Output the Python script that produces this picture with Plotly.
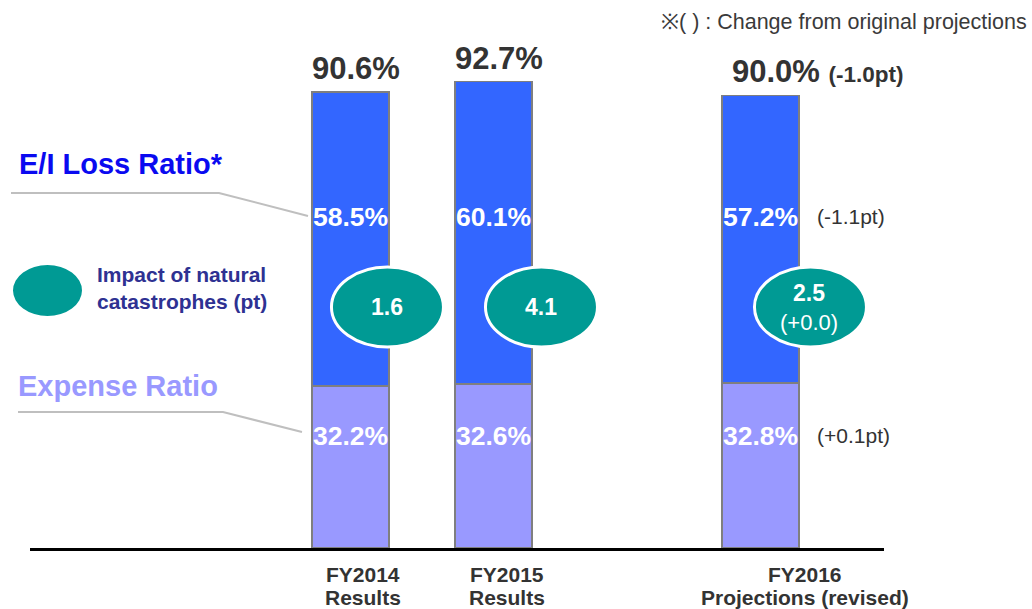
import plotly.graph_objects as go

# ---------------- data ----------------
categories = ["FY2014<br>Results", "FY2015<br>Results", "FY2016<br>Projections (revised)"]
expense_ratio = [32.2, 32.6, 32.8]
loss_ratio = [58.5, 60.1, 57.2]
combined_ratio = [90.6, 92.7, 90.0]
nat_cat_impact = [1.6, 4.1, 2.5]
nat_cat_change = ["", "", "(+0.0)"]
loss_change = ["", "", "(-1.1pt)"]
expense_change = ["", "", "(+0.1pt)"]
combined_change = ["", "", "(-1.0pt)"]

# ---------------- layout constants ----------------
W, H = 1032, 609
L, R, T, B = 30, 148, 45, 61
PW, PH = W - L - R, H - T - B
x_pos = [0, 1, 2.867]
bar_w = 0.538
FONT = "Liberation Sans, Arial, sans-serif"
C_LOSS, C_EXP, C_TEAL = "#3366FF", "#9999FF", "#009A94"
C_TXT = "#333333"


def px(xp):
    return (xp - L) / PW


def py(yp):
    return (H - B - yp) / PH


fig = go.Figure()
fig.add_trace(go.Bar(x=x_pos, y=expense_ratio, width=bar_w, name="Expense Ratio",
                     marker=dict(color=C_EXP, line=dict(color="#7F7F7F", width=1.5)),
                     hoverinfo="skip"))
fig.add_trace(go.Bar(x=x_pos, y=loss_ratio, width=bar_w, name="E/I Loss Ratio*",
                     marker=dict(color=C_LOSS, line=dict(color="#7F7F7F", width=1.5)),
                     hoverinfo="skip"))

ann = []
shapes = []
loss_label_y = 65.9
exp_label_y = 22.3
ell_y = 47.9
ell_dx = [37, 48, 50]
total_dx = [6, 6, None]
cat_dx = [13, 14, 45]
cat_line_shift = [-26, -49]

for i, xv in enumerate(x_pos):
    # inner labels
    ann.append(dict(x=xv, y=loss_label_y, text=f"<b>{loss_ratio[i]:.1f}%</b>", showarrow=False,
                    font=dict(size=26.5, color="white", family=FONT)))
    ann.append(dict(x=xv, y=exp_label_y, text=f"<b>{expense_ratio[i]:.1f}%</b>", showarrow=False,
                    font=dict(size=26.5, color="white", family=FONT)))
    # totals
    if combined_change[i]:
        ann.append(dict(x=xv, y=combined_ratio[i], xanchor="left", yanchor="bottom", xshift=-30, yshift=4,
                        text=f"<b>{combined_ratio[i]:.1f}%</b> <b><span style='font-size:22.5px'>{combined_change[i]}</span></b>",
                        showarrow=False, font=dict(size=31, color=C_TXT, family=FONT)))
    else:
        ann.append(dict(x=xv, y=combined_ratio[i], yanchor="bottom", xshift=total_dx[i], yshift=4,
                        text=f"<b>{combined_ratio[i]:.1f}%</b>", showarrow=False,
                        font=dict(size=31, color=C_TXT, family=FONT)))
    # change notes
    if loss_change[i]:
        ann.append(dict(x=xv, y=loss_label_y, xanchor="left", xshift=55, text=loss_change[i], showarrow=False,
                        font=dict(size=21, color=C_TXT, family=FONT)))
    if expense_change[i]:
        ann.append(dict(x=xv, y=exp_label_y, xanchor="left", xshift=55, text=expense_change[i], showarrow=False,
                        font=dict(size=21, color=C_TXT, family=FONT)))
    # ellipse
    shapes.append(dict(type="circle", xref="x", yref="y", xsizemode="pixel", ysizemode="pixel",
                       xanchor=xv, yanchor=ell_y, x0=ell_dx[i] - 56, x1=ell_dx[i] + 56, y0=-40, y1=40,
                       fillcolor=C_TEAL, line=dict(color="white", width=3), layer="above"))
    if nat_cat_change[i]:
        ann.append(dict(x=xv, y=ell_y, xshift=ell_dx[i] - 1, yshift=14, text=f"<b>{nat_cat_impact[i]:.1f}</b>",
                        showarrow=False, font=dict(size=23, color="white", family=FONT)))
        ann.append(dict(x=xv, y=ell_y, xshift=ell_dx[i] - 1, yshift=-15, text=nat_cat_change[i],
                        showarrow=False, font=dict(size=22, color="white", family=FONT)))
    else:
        ann.append(dict(x=xv, y=ell_y, xshift=ell_dx[i], text=f"<b>{nat_cat_impact[i]:.1f}</b>",
                        showarrow=False, font=dict(size=23, color="white", family=FONT)))
    # category labels (one annotation per line for tight spacing)
    for line, ys in zip(categories[i].split("<br>"), cat_line_shift):
        ann.append(dict(x=xv, y=0, yanchor="middle", yshift=ys, xshift=cat_dx[i], text=f"<b>{line}</b>",
                        showarrow=False, font=dict(size=21, color=C_TXT, family=FONT)))

# left side legend-like labels
ann.append(dict(xref="paper", yref="paper", x=px(17), y=py(164), xanchor="left", yanchor="middle",
                text="<b>E/I Loss Ratio*</b>",
                showarrow=False, font=dict(size=29, color="#0A0AF0", family=FONT)))
ann.append(dict(xref="paper", yref="paper", x=px(16), y=py(386), xanchor="left", yanchor="middle",
                text="<b>Expense Ratio</b>",
                showarrow=False, font=dict(size=29, color=C_EXP, family=FONT)))
ann.append(dict(xref="paper", yref="paper", x=px(95), y=py(288), xanchor="left", yanchor="middle",
                text="<b>Impact of natural<br>catastrophes (pt)</b>", align="left",
                showarrow=False, font=dict(size=21, color="#2E3192", family=FONT)))
ann.append(dict(xref="paper", yref="paper", x=px(1029), y=py(22), xanchor="right", yanchor="middle",
                text="※( ) : Change from original projections",
                showarrow=False, font=dict(size=21.5, color="#3A3A3A", family=FONT)))

shapes.append(dict(type="circle", xref="paper", yref="paper", x0=px(13), x1=px(82), y0=py(265), y1=py(316),
                   fillcolor=C_TEAL, line=dict(width=0)))
shapes.append(dict(type="path", xref="paper", yref="paper",
                   path=f"M {px(11)} {py(193)} L {px(219)} {py(193)} L {px(308)} {py(216)}",
                   line=dict(color="#BFBFBF", width=2)))
shapes.append(dict(type="path", xref="paper", yref="paper",
                   path=f"M {px(18)} {py(412)} L {px(223)} {py(412)} L {px(302)} {py(432)}",
                   line=dict(color="#BFBFBF", width=2)))

fig.update_layout(
    width=W, height=H, margin=dict(l=L, r=R, t=T, b=B),
    barmode="stack", showlegend=False,
    paper_bgcolor="white", plot_bgcolor="white",
    xaxis=dict(range=[-2.241, 3.731], showgrid=False, zeroline=False, showticklabels=False,
               showline=True, linecolor="black", linewidth=2.5, ticks=""),
    yaxis=dict(range=[0, 100], visible=False),
    annotations=ann, shapes=shapes,
    font=dict(family=FONT),
)

fig.write_html("out.html")
